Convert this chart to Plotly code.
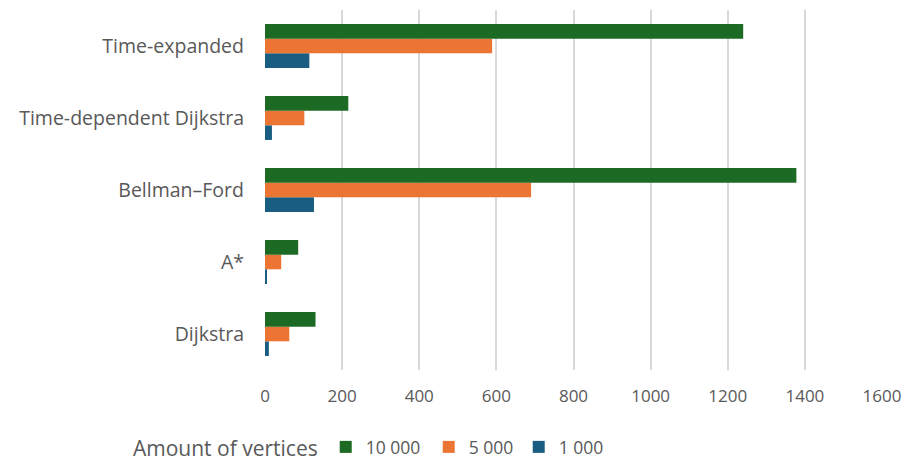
import plotly.graph_objects as go

# Algorithms, listed bottom to top as they appear on the category axis
algorithms = ["Dijkstra", "A*", "Bellman–Ford", "Time-dependent Dijkstra", "Time-expanded"]

# Running time per algorithm for each graph size
v1000 = [10, 5, 127, 18, 115]
v5000 = [63, 42, 690, 102, 589]
v10000 = [131, 86, 1378, 216, 1240]

series_names = ["1 000", "5 000", "10 000"]
series_values = [v1000, v5000, v10000]
series_colors = ["#195e82", "#ec7533", "#1c6a24"]
legend_widths = [50, 45, 58]

x_ticks = [0, 200, 400, 600, 800, 1000, 1200, 1400, 1600]

GRAY = "#595959"
FONT = "'Open Sans', sans-serif"

fig = go.Figure()
for name, vals, col, lw in zip(series_names, series_values, series_colors, legend_widths):
    fig.add_trace(go.Bar(
        y=algorithms, x=vals, name=name, orientation="h",
        marker=dict(color=col, line=dict(width=0)),
        legendwidth=lw,
    ))

fig.update_layout(
    width=907, height=461,
    margin=dict(l=265, r=25, t=10, b=91, autoexpand=False),
    paper_bgcolor="white", plot_bgcolor="white",
    barmode="group", bargap=0.39, bargroupgap=0,
    font=dict(family=FONT, color=GRAY, size=17),
    showlegend=True,
    legend=dict(
        orientation="h", traceorder="reversed",
        xref="container", yref="container",
        x=131 / 907, xanchor="left", y=13 / 461, yanchor="middle",
        title=dict(text="Amount of vertices", font=dict(size=21, color=GRAY)),
        font=dict(size=17.5, color=GRAY),
        itemwidth=30, bgcolor="rgba(0,0,0,0)",
    ),
)

fig.update_xaxes(
    range=[0, 1600], tickvals=x_ticks, ticktext=[str(t) for t in x_ticks],
    showgrid=True, gridcolor="#d9d9d9", gridwidth=1.5,
    zeroline=False, showline=False, ticks="",
    ticklabelstandoff=14, tickfont=dict(size=17, color=GRAY),
)
fig.update_yaxes(
    type="category", showgrid=False, zeroline=False, showline=False, ticks="",
    ticklabelstandoff=20, tickfont=dict(size=19.5, color=GRAY),
)

fig.write_html("out.html")
